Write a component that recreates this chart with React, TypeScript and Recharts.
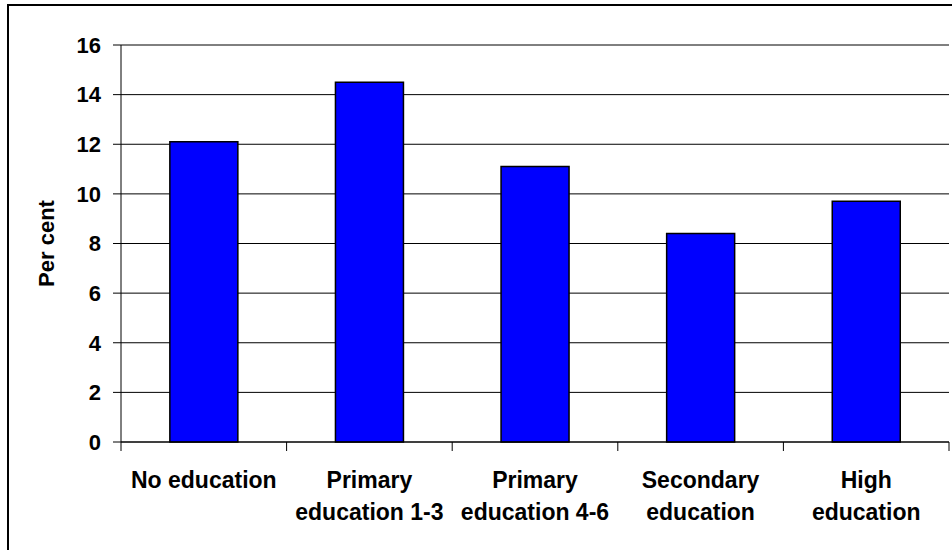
import React from 'react'
import { BarChart, Bar, XAxis, YAxis, CartesianGrid } from 'recharts'

const categories = ['No education', 'Primary\neducation 1-3', 'Primary\neducation 4-6', 'Secondary\neducation', 'High\neducation']
const perCent = [12.1, 14.5, 11.1, 8.4, 9.7]
const yTicks = [0, 2, 4, 6, 8, 10, 12, 14, 16]

const chartData = categories.map((name, i) => ({ name, value: perCent[i] }))

const FONT = '"Liberation Sans", Arial, sans-serif'

// Excel style: tick marks sit between categories, labels centred in each band
const CategoryTick = (props: any) => {
  const { x, y, payload, index } = props
  const half = payload.offset || 0
  const lines = String(payload.value).split('\n')
  return (
    <g>
      <line x1={x - half} x2={x - half} y1={y} y2={y + 9} stroke="#000" />
      {index === categories.length - 1 && (
        <line x1={x + half} x2={x + half} y1={y} y2={y + 9} stroke="#000" />
      )}
      <text x={x} y={y + 46} textAnchor="middle" fontFamily={FONT} fontSize={23} fontWeight="bold" fill="#000">
        {lines.map((line, i) => (
          <tspan key={i} x={x} dy={i === 0 ? 0 : 32}>{line}</tspan>
        ))}
      </text>
    </g>
  )
}

const YLabel = (props: any) => {
  const { viewBox } = props
  const cx = 46
  const cy = viewBox.y + viewBox.height / 2
  return (
    <text
      x={cx}
      y={cy}
      transform={`rotate(-90, ${cx}, ${cy})`}
      textAnchor="middle"
      dominantBaseline="central"
      fontFamily={FONT}
      fontSize={22}
      fontWeight="bold"
      fill="#000"
    >
      Per cent
    </text>
  )
}

const App: React.FC = () => {
  return (
    <div style={{ position: 'absolute', left: 0, top: 0, width: 952, height: 550, overflow: 'hidden', background: '#fff' }}>
      <div style={{ position: 'absolute', left: 7, top: 4, width: 980, height: 600, border: '2px solid #000' }} />
      <div style={{ position: 'absolute', left: 0, top: 0 }}>
        <BarChart
          width={952}
          height={550}
          data={chartData}
          margin={{ top: 45, right: 3, bottom: 0, left: 0 }}
          barCategoryGap="29.5%"
        >
          <CartesianGrid vertical={false} stroke="#000" strokeWidth={1} />
          <XAxis
            dataKey="name"
            height={108}
            stroke="#000"
            tickLine={false}
            tickSize={0}
            tickMargin={0}
            interval={0}
            tick={<CategoryTick />}
          />
          <YAxis
            width={121}
            domain={[0, 16]}
            ticks={yTicks}
            stroke="#000"
            tickSize={8}
            tickMargin={12}
            tick={{ fill: '#000', fontFamily: FONT, fontSize: 22, fontWeight: 'bold' }}
            label={<YLabel />}
          />
          <YAxis
            yAxisId="right"
            orientation="right"
            width={0}
            domain={[0, 16]}
            tick={false}
            tickLine={false}
            stroke="#999"
          />
          <Bar
            dataKey="value"
            fill="#0000ff"
            stroke="#000"
            strokeWidth={1.5}
            isAnimationActive={false}
          />
        </BarChart>
      </div>
    </div>
  )
}

export default App
